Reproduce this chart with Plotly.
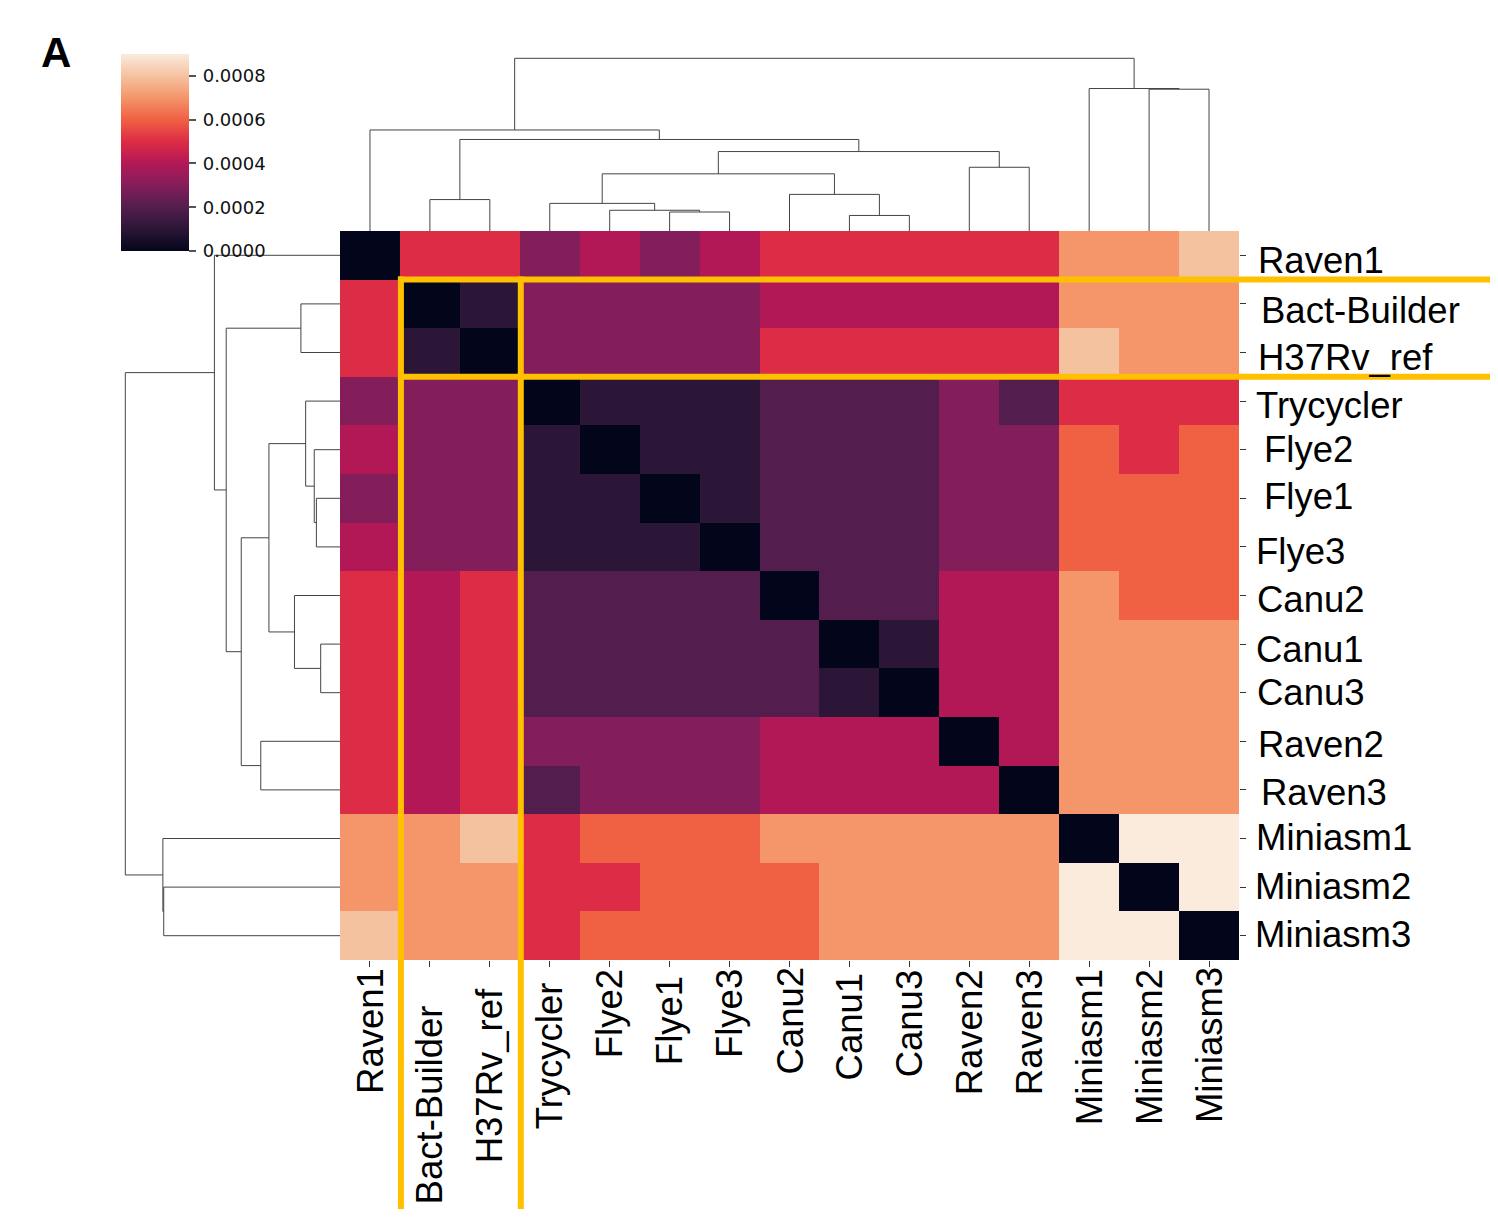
import plotly.graph_objects as go

W, H = 1498, 1217
OFF = 8  # browser body margin
FW, FH = W - 2 * OFF, H - 2 * OFF

# ---------------- data ----------------
labels = ["Raven1", "Bact-Builder", "H37Rv_ref", "Trycycler", "Flye2", "Flye1", "Flye3",
          "Canu2", "Canu1", "Canu3", "Raven2", "Raven3", "Miniasm1", "Miniasm2", "Miniasm3"]

# pairwise distance matrix (rows/cols in clustered order)
distance = [
    [0.0000, 0.0005, 0.0005, 0.0003, 0.0004, 0.0003, 0.0004, 0.0005, 0.0005, 0.0005, 0.0005, 0.0005, 0.0007, 0.0007, 0.0008],
    [0.0005, 0.0000, 0.0001, 0.0003, 0.0003, 0.0003, 0.0003, 0.0004, 0.0004, 0.0004, 0.0004, 0.0004, 0.0007, 0.0007, 0.0007],
    [0.0005, 0.0001, 0.0000, 0.0003, 0.0003, 0.0003, 0.0003, 0.0005, 0.0005, 0.0005, 0.0005, 0.0005, 0.0008, 0.0007, 0.0007],
    [0.0003, 0.0003, 0.0003, 0.0000, 0.0001, 0.0001, 0.0001, 0.0002, 0.0002, 0.0002, 0.0003, 0.0002, 0.0005, 0.0005, 0.0005],
    [0.0004, 0.0003, 0.0003, 0.0001, 0.0000, 0.0001, 0.0001, 0.0002, 0.0002, 0.0002, 0.0003, 0.0003, 0.0006, 0.0005, 0.0006],
    [0.0003, 0.0003, 0.0003, 0.0001, 0.0001, 0.0000, 0.0001, 0.0002, 0.0002, 0.0002, 0.0003, 0.0003, 0.0006, 0.0006, 0.0006],
    [0.0004, 0.0003, 0.0003, 0.0001, 0.0001, 0.0001, 0.0000, 0.0002, 0.0002, 0.0002, 0.0003, 0.0003, 0.0006, 0.0006, 0.0006],
    [0.0005, 0.0004, 0.0005, 0.0002, 0.0002, 0.0002, 0.0002, 0.0000, 0.0002, 0.0002, 0.0004, 0.0004, 0.0007, 0.0006, 0.0006],
    [0.0005, 0.0004, 0.0005, 0.0002, 0.0002, 0.0002, 0.0002, 0.0002, 0.0000, 0.0001, 0.0004, 0.0004, 0.0007, 0.0007, 0.0007],
    [0.0005, 0.0004, 0.0005, 0.0002, 0.0002, 0.0002, 0.0002, 0.0002, 0.0001, 0.0000, 0.0004, 0.0004, 0.0007, 0.0007, 0.0007],
    [0.0005, 0.0004, 0.0005, 0.0003, 0.0003, 0.0003, 0.0003, 0.0004, 0.0004, 0.0004, 0.0000, 0.0004, 0.0007, 0.0007, 0.0007],
    [0.0005, 0.0004, 0.0005, 0.0002, 0.0003, 0.0003, 0.0003, 0.0004, 0.0004, 0.0004, 0.0004, 0.0000, 0.0007, 0.0007, 0.0007],
    [0.0007, 0.0007, 0.0008, 0.0005, 0.0006, 0.0006, 0.0006, 0.0007, 0.0007, 0.0007, 0.0007, 0.0007, 0.0000, 0.0009, 0.0009],
    [0.0007, 0.0007, 0.0007, 0.0005, 0.0005, 0.0006, 0.0006, 0.0006, 0.0007, 0.0007, 0.0007, 0.0007, 0.0009, 0.0000, 0.0009],
    [0.0008, 0.0007, 0.0007, 0.0005, 0.0006, 0.0006, 0.0006, 0.0006, 0.0007, 0.0007, 0.0007, 0.0007, 0.0009, 0.0009, 0.0000],
]

# hierarchical linkage (leaf ids = positions above, new ids from 15), relative heights
link_left = [8, 5, 4, 3, 1, 7, 18, 10, 21, 19, 0, 13, 12, 25]
link_right = [9, 6, 16, 17, 2, 15, 20, 11, 22, 23, 24, 14, 26, 27]
link_height = [0.09, 0.11, 0.12, 0.16, 0.182, 0.212, 0.331, 0.369, 0.46, 0.53, 0.585, 0.821, 0.825, 1.0]

cbar_ticks = [0.0, 0.0002, 0.0004, 0.0006, 0.0008]
cbar_text = ["0.0000", "0.0002", "0.0004", "0.0006", "0.0008"]

# rocket-like colour scale
rocket = [
    [0.0, "#03051A"], [1 / 9, "#2B1637"], [2 / 9, "#531E4D"], [3 / 9, "#841E5A"],
    [4 / 9, "#B31856"], [5 / 9, "#DD2C45"], [6 / 9, "#F06043"], [7 / 9, "#F4956A"],
    [8 / 9, "#F5C2A0"], [1.0, "#FAEBDD"],
]

# label placement quirks of the original figure (style, in px)
bottom_label_gap = [7, 44, 27, 21, 8, 15, 8, 6, 11, 8, 8, 8, 8, 8, 6]
right_label_gap = [18, 21, 18, 16, 24, 24, 16, 17, 16, 17, 18, 21, 16, 15, 15]
right_label_drop = [5, 7, 5, 4, 0, -2, 5, 4, 5, 0, 3, 3, -1, -1, -1]

# ---------------- layout geometry (page pixels) ----------------
hm_x0, hm_x1 = 340, 1239
hm_y0, hm_y1 = 231, 960
n = len(labels)


def px(x):
    return (x - OFF) / FW


def py(y):
    return 1 - (y - OFF) / FH


# ---------------- dendrogram coordinates ----------------
pos = {i: float(i) for i in range(n)}
hgt = {i: 0.0 for i in range(n)}
segs_a, segs_h = [], []
for k, (a, b, h) in enumerate(zip(link_left, link_right, link_height)):
    node = n + k
    xa, xb = pos[a], pos[b]
    segs_a += [xa, xa, xb, xb, None]
    segs_h += [hgt[a], h, h, hgt[b], None]
    pos[node] = (xa + xb) / 2
    hgt[node] = h

fig = go.Figure()

fig.add_trace(go.Heatmap(
    z=distance, x=list(range(n)), y=list(range(n)),
    colorscale=rocket, zmin=0, zmax=0.0009,
    xaxis="x", yaxis="y",
    colorbar=dict(
        x=px(121), xanchor="left", xref="paper",
        y=py(54), yanchor="top", yref="paper",
        len=(251 - 54) / FH, lenmode="fraction",
        thickness=68, thicknessmode="pixels",
        outlinewidth=0, xpad=0, ypad=0,
        tickvals=cbar_ticks, ticktext=["\u2009" + t for t in cbar_text],
        ticks="outside", ticklen=7, tickwidth=1.5, tickcolor="#555555",
        tickfont=dict(family="DejaVu Sans", size=18, color="#111111"),
    ),
    showscale=True,
))

dcol = "#444444"
fig.add_trace(go.Scatter(x=segs_a, y=segs_h, mode="lines", line=dict(color=dcol, width=1),
                         xaxis="x2", yaxis="y2", showlegend=False, hoverinfo="skip"))
fig.add_trace(go.Scatter(x=segs_h, y=segs_a, mode="lines", line=dict(color=dcol, width=1),
                         xaxis="x3", yaxis="y3", showlegend=False, hoverinfo="skip"))

label_font = dict(family="Liberation Sans, Arial", size=36.5, color="#000000")

top_root_px = 231 - 58.3
left_root_px = 340 - 125.3

fig.update_layout(
    width=FW, height=FH,
    margin=dict(l=0, r=0, t=0, b=0),
    paper_bgcolor="white", plot_bgcolor="white",
    showlegend=False,
    xaxis=dict(domain=[px(hm_x0), px(hm_x1)], range=[-0.5, n - 0.5], anchor="y",
               tickmode="array", tickvals=list(range(n)), showticklabels=False,
               ticks="outside", ticklen=6, tickcolor="#333333",
               showgrid=False, zeroline=False, showline=False),
    yaxis=dict(domain=[py(hm_y1), py(hm_y0)], range=[n - 0.5, -0.5], anchor="x", side="right",
               tickmode="array", tickvals=list(range(n)), showticklabels=False,
               ticks="outside", ticklen=6, tickcolor="#333333",
               showgrid=False, zeroline=False, showline=False),
    xaxis2=dict(domain=[px(hm_x0), px(hm_x1)], range=[-0.5, n - 0.5], anchor="y2",
                visible=False),
    yaxis2=dict(domain=[py(hm_y0), py(hm_y0 - top_root_px - 12)],
                range=[0, (top_root_px + 12) / top_root_px], anchor="x2", visible=False),
    xaxis3=dict(domain=[px(hm_x0 - left_root_px - 12), px(hm_x0)],
                range=[(left_root_px + 12) / left_root_px, 0], anchor="y3", visible=False),
    yaxis3=dict(domain=[py(hm_y1), py(hm_y0)], range=[n - 0.5, -0.5], anchor="x3",
                visible=False),
)

# axis labels as annotations (to reproduce the original's uneven placement)
for i, lab in enumerate(labels):
    fig.add_annotation(text=lab, xref="x", yref="paper", x=i, y=py(hm_y1),
                       textangle=-90, xanchor="center", yanchor="top",
                       yshift=-bottom_label_gap[i], showarrow=False, borderpad=0,
                       font=label_font)
    fig.add_annotation(text=lab, xref="paper", yref="y", x=px(hm_x1), y=i,
                       xanchor="left", yanchor="middle",
                       xshift=right_label_gap[i], yshift=-right_label_drop[i],
                       showarrow=False, borderpad=0, font=label_font)

# ---------------- highlight lines around Bact-Builder / H37Rv_ref ----------------
cw = (hm_x1 - hm_x0) / n
ch = (hm_y1 - hm_y0) / n
orange = "#FFC000"
lw = 6
xl = hm_x0 + 1 * cw
xr = hm_x0 + 3 * cw
yt = hm_y0 + 1 * ch
yb = hm_y0 + 3 * ch
shapes = []
for xv in (xl, xr):
    shapes.append(dict(type="line", xref="paper", yref="paper",
                       x0=px(xv + 1), x1=px(xv + 1), y0=py(yt - 3), y1=0,
                       line=dict(color=orange, width=lw), layer="above"))
for yv in (yt, yb):
    shapes.append(dict(type="line", xref="paper", yref="paper",
                       x0=px(xl - 2), x1=1, y0=py(yv), y1=py(yv),
                       line=dict(color=orange, width=lw), layer="above"))
fig.update_layout(shapes=shapes)

fig.add_annotation(text="<b>A</b>", xref="paper", yref="paper", x=px(39), y=py(27),
                   xanchor="left", yanchor="top", showarrow=False,
                   font=dict(family="Liberation Sans, Arial", size=42, color="#000000"))

fig.write_html("out.html")
